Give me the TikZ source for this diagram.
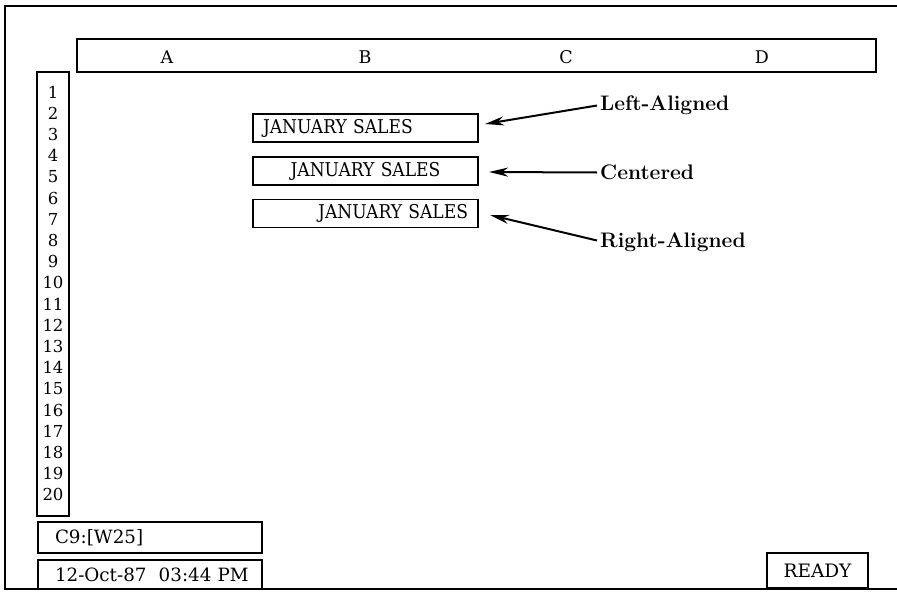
\documentclass[tikz,border=0pt]{standalone}
\usepackage{fontspec}
\usetikzlibrary{arrows.meta}
\newfontfamily\screenfont{DejaVu Serif}
\newfontfamily\cellfont{DejaVu Serif Condensed}
\begin{document}
\begin{tikzpicture}[x=1pt,y=-1pt,
  frame/.style={line width=1.8pt},
  box/.style={draw,line width=1.1pt,inner sep=0pt,outer sep=0pt},
  collbl/.style={font=\screenfont\fontsize{17.5}{17.5}\selectfont,inner sep=0pt},
  rownum/.style={font=\screenfont\fontsize{16.5}{16.5}\selectfont,inner sep=0pt},
  cellbox/.style={box,minimum width=225pt,minimum height=28pt,text width=205pt,
    font=\cellfont\fontsize{19}{19}\selectfont},
  infobox/.style={box,minimum width=224pt,text width=190pt,align=left,
    font=\screenfont\fontsize{18.3}{18.3}\selectfont},
  callout/.style={font=\bfseries\fontsize{21}{21}\selectfont,inner sep=0pt,
    text height=14.2pt,text depth=0pt,anchor=west},
  arr/.style={line width=2pt,-{Stealth[length=19pt,width=9pt,inset=6pt]}}]
\useasboundingbox (0,0) rectangle (897,597);

% outer screen frame
\draw[frame] (897,6) -- (5,6) -- (5,589) -- (897,589);

% column header
\node[box,minimum width=799pt,minimum height=33pt] (cols) at (476.5,55.5) {};
\node[collbl] (cA) at (167,57) {A};
\node[collbl] (cB) at (365,57) {B};
\node[collbl] (cC) at (566,57) {C};
\node[collbl] (cD) at (762,57) {D};

% row header
\node[box,minimum width=32pt,minimum height=444pt] (rows) at (53,294) {};
\foreach \i in {1,...,20}
  \node[rownum] (r\i) at (53,{92+(\i-1)*21.2}) {\i};

% aligned cells
\node[cellbox,align=left]  (left)  at (365.5,128)   {JANUARY SALES};
\node[cellbox,align=center](center)at (365.5,171)   {JANUARY SALES};
\node[cellbox,align=right] (right) at (365.5,213.5) {JANUARY SALES};

% callouts
\node[callout] (lblL) at (600,103.5) {Left-Aligned};
\node[callout] (lblC) at (600,172.5) {Centered};
\node[callout] (lblR) at (600,240.5) {Right-Aligned};
\draw[arr] ([xshift=-3pt,yshift=-2pt]lblL.west) -- ([xshift=7pt,yshift=4pt]left.east);
\draw[arr] ([xshift=-3pt]lblC.west) -- ([xshift=11pt,yshift=-1pt]center.east);
\draw[arr] ([xshift=-3pt]lblR.west) -- ([xshift=12pt,yshift=-1.5pt]right.east);

% status lines
\node[infobox,minimum height=31pt] (cell) at (150,537.5) {\mbox{C9:[W25]}};
\node[infobox,minimum height=29pt] (clock) at (150,574.5) {\mbox{12-Oct-87\ \ 03:44 PM}};
\node[box,minimum width=101pt,minimum height=35pt,font=\screenfont\fontsize{18.5}{18.5}\selectfont] (mode) at (817.5,570.5) {READY};
\end{tikzpicture}
\end{document}
